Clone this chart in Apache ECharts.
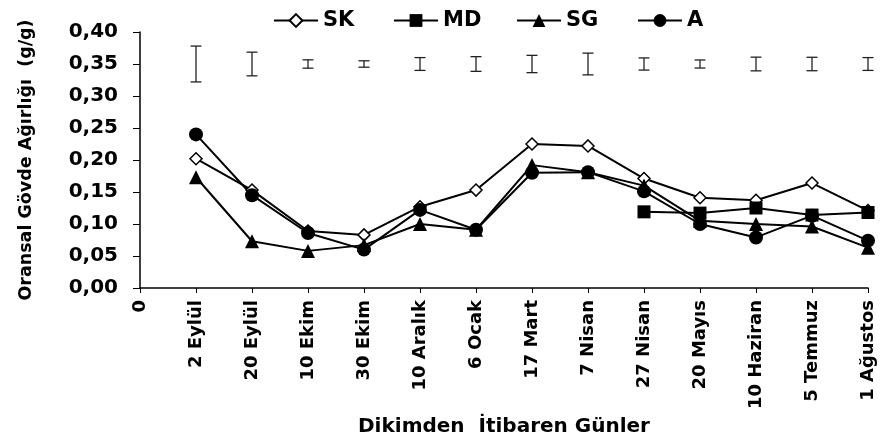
<!DOCTYPE html>
<html><head><meta charset="utf-8">
<script src="https://cdn.jsdelivr.net/npm/echarts@6/dist/echarts.min.js"></script>
<style>html,body{margin:0;padding:0;background:#fff}#c{width:882px;height:444px}</style>
</head><body><div id="c"></div>
<script>
const categories = ['2 Eylül','20 Eylül','10 Ekim','30 Ekim','10 Aralık','6 Ocak','17 Mart','7 Nisan','27 Nisan','20 Mayıs','10 Haziran','5 Temmuz','1 Ağustos'];
const tickLabels = ['0','2 Eylül','20 Eylül','10 Ekim','30 Ekim','10 Aralık','6 Ocak','17 Mart','7 Nisan','27 Nisan','20 Mayıs','10 Haziran','5 Temmuz','1 Ağustos'];
const seriesNames = ['SK','MD','SG','A'];
const SK = [0.202,0.153,0.089,0.083,0.127,0.153,0.225,0.222,0.171,0.141,0.137,0.164,0.121];
const MD = [null,null,null,null,null,null,null,null,0.119,0.117,0.125,0.114,0.118];
const SG = [0.173,0.073,0.058,0.067,0.100,0.091,0.192,0.181,0.160,0.105,0.100,0.096,0.063];
const A  = [0.240,0.145,0.086,0.060,0.122,0.091,0.180,0.181,0.151,0.100,0.079,0.113,0.074];
const errMean = [0.350,0.350,0.350,0.350,0.350,0.350,0.350,0.350,0.350,0.350,0.350,0.350,0.350];
const errHalf = [0.028,0.0185,0.0065,0.005,0.010,0.0115,0.0135,0.017,0.0095,0.0063,0.0107,0.0105,0.010];

const FONT = 'DejaVu Sans';
const legendLeft = [268, 388, 511, 632];
function pts(arr){ const out=[]; arr.forEach((v,i)=>{ if(v!==null) out.push([i+1, v]); }); return out; }
function lineSeries(name, arr, symbol, size, fill){
  return {
    name, type:'line', data: pts(arr), symbol, symbolSize: size,
    lineStyle:{color:'#000', width:2},
    itemStyle:{color: fill, borderColor:'#000', borderWidth: fill==='#fff'?1.5:0},
    z: 3
  };
}
const chart = echarts.init(document.getElementById('c'), null, {renderer:'canvas'});
chart.setOption({
  animation:false,
  backgroundColor:'#fff',
  textStyle:{fontFamily:FONT},
  grid:{left:140, right:14, top:32, bottom:156, containLabel:false},
  legend: seriesNames.map((n,i)=>({
    data:[n], left:legendLeft[i], top:5, itemWidth:44, itemHeight:16,
    textStyle:{fontFamily:FONT, fontWeight:'bold', fontSize:21, color:'#000'}
  })),
  xAxis:{
    type:'value', min:0, max:13, interval:1,
    name:'Dikimden  İtibaren Günler', nameLocation:'middle', nameGap:128,
    nameTextStyle:{fontFamily:FONT, fontWeight:'bold', fontSize:20, color:'#000'},
    axisLine:{show:true, lineStyle:{color:'#000', width:1.5}},
    axisTick:{show:true, length:5, lineStyle:{color:'#000'}},
    splitLine:{show:false},
    axisLabel:{rotate:90, margin:12, showMinLabel:true, showMaxLabel:true,
      fontFamily:FONT, fontWeight:'bold', fontSize:18, color:'#000',
      formatter:v=>tickLabels[Math.round(v)]}
  },
  yAxis:{
    type:'value', min:0, max:0.4, interval:0.05,
    name:'Oransal Gövde Ağırlığı  (g/g)', nameLocation:'middle', nameGap:105, nameRotate:90,
    nameTextStyle:{fontFamily:FONT, fontWeight:'bold', fontSize:17.5, color:'#000'},
    axisLine:{show:true, lineStyle:{color:'#000', width:1.5}},
    axisTick:{show:true, length:7, lineStyle:{color:'#000'}},
    splitLine:{show:false},
    axisLabel:{margin:22, fontFamily:FONT, fontWeight:'bold', fontSize:20, color:'#000',
      formatter:v=>v.toFixed(2).replace('.',',')}
  },
  series:[
    {
      type:'custom', name:'err', z:2,
      data: categories.map((c,i)=>[i+1, errMean[i]-errHalf[i], errMean[i]+errHalf[i]]),
      encode:{x:0, y:[1,2]},
      renderItem:function(params, api){
        const x=api.value(0), lo=api.value(1), hi=api.value(2);
        const a=api.coord([x,lo]), b=api.coord([x,hi]);
        const w=5.5, st={stroke:'#222', lineWidth:1.3};
        return {type:'group', children:[
          {type:'line', shape:{x1:a[0],y1:a[1],x2:b[0],y2:b[1]}, style:st},
          {type:'line', shape:{x1:a[0]-w,y1:a[1],x2:a[0]+w,y2:a[1]}, style:st},
          {type:'line', shape:{x1:b[0]-w,y1:b[1],x2:b[0]+w,y2:b[1]}, style:st}
        ]};
      }
    },
    lineSeries('SK', SK, 'diamond', 12, '#fff'),
    lineSeries('MD', MD, 'rect', 13, '#000'),
    lineSeries('SG', SG, 'triangle', 14, '#000'),
    lineSeries('A', A, 'circle', 14, '#000')
  ]
});
</script></body></html>
